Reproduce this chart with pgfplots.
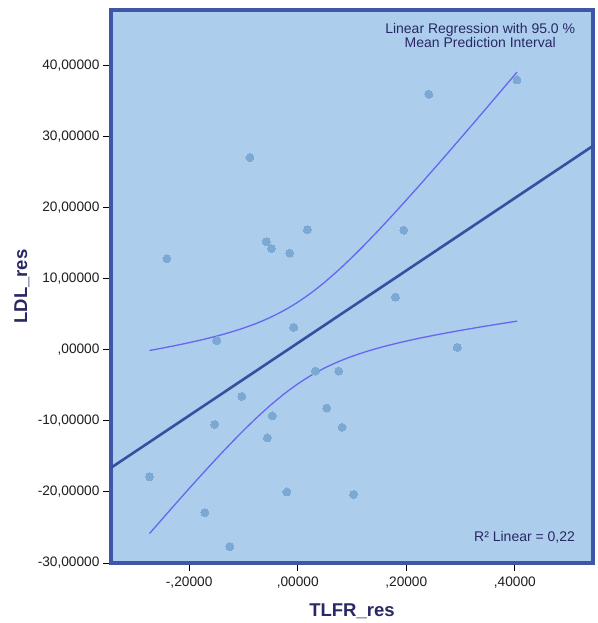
\documentclass[border=0pt]{standalone}
\usepackage{fontspec}
\setmainfont{Liberation Sans}
\usepackage{pgfplots}
\pgfplotsset{compat=1.18}
\definecolor{bgfill}{RGB}{172,206,236}
\definecolor{framec}{RGB}{63,86,168}
\definecolor{regline}{RGB}{58,78,158}
\definecolor{bandc}{RGB}{102,102,240}
\definecolor{ptc}{RGB}{124,168,212}
\definecolor{navy}{RGB}{40,40,100}
\begin{document}
\begin{tikzpicture}
\begin{axis}[
  name=ax,
  anchor=south west, at={(0,0)},
  width=482bp, height=553bp, scale only axis,
  xmin=-0.344, xmax=0.544, ymin=-30, ymax=47.8,
  axis background/.style={fill=bgfill},
  axis line style={line width=4bp, draw=framec},
  tick align=outside, xtick pos=bottom, ytick pos=left,
  major tick length=8bp,
  tick style={black, line width=1bp},
  xtick={-0.2,0,0.2,0.4},
  xticklabels={-{,}20000,{,}00000,{,}20000,{,}40000},
  ytick={-30,-20,-10,0,10,20,30,40},
  yticklabels={-30{,}00000,-20{,}00000,-10{,}00000,{,}00000,10{,}00000,20{,}00000,30{,}00000,40{,}00000},
  ticklabel style={font=\fontsize{13.7bp}{15bp}\selectfont, text=black!88},
  x tick label style={yshift=-2bp},
  xlabel={TLFR\_res}, ylabel={LDL\_res},
  label style={font=\fontsize{18.5bp}{20bp}\selectfont\bfseries, text=navy},
  x label style={at={(axis description cs:0.5,-0.088)}, anchor=center},
  y label style={at={(axis description cs:-0.185,0.5)}, anchor=center},
  clip=true,
]
% regression line
\addplot[regline, line width=2.6bp] coordinates {(-0.344,-16.604) (0.544,28.684)};
% upper 95% mean prediction band
\addplot[bandc, line width=1.3bp, smooth] coordinates {
(-0.273,-0.10) (-0.25,0.225) (-0.225,0.60) (-0.2,1.00) (-0.175,1.435) (-0.15,1.911)
(-0.125,2.443) (-0.1,3.048) (-0.075,3.749) (-0.05,4.571) (-0.025,5.543) (0,6.688)
(0.025,8.019) (0.05,9.53) (0.075,11.201) (0.1,13.006) (0.125,14.916) (0.15,16.906)
(0.175,18.959) (0.2,21.06) (0.225,23.197) (0.25,25.362) (0.275,27.55) (0.3,29.756)
(0.325,31.976) (0.35,34.208) (0.375,36.45) (0.404,39.06)};
% lower band
\addplot[bandc, line width=1.3bp, smooth] coordinates {
(-0.273,-25.86) (-0.25,-23.845) (-0.225,-21.67) (-0.2,-19.52) (-0.175,-17.405) (-0.15,-15.331)
(-0.125,-13.313) (-0.1,-11.368) (-0.075,-9.519) (-0.05,-7.791) (-0.025,-6.213) (0,-4.808)
(0.025,-3.589) (0.05,-2.55) (0.075,-1.671) (0.1,-0.926) (0.125,-0.286) (0.15,0.274)
(0.175,0.771) (0.2,1.22) (0.225,1.633) (0.25,2.018) (0.275,2.38) (0.3,2.724)
(0.325,3.054) (0.35,3.372) (0.375,3.68) (0.404,4.028)};
% data points
\addplot[ptc, only marks, mark=*, mark size=4pt, mark options={fill=ptc, draw=ptc, line width=0pt}] coordinates {
(-0.273,-17.86) (-0.241,12.8) (-0.149,1.27) (-0.153,-10.5) (-0.171,-22.9) (-0.125,-27.7)
(-0.103,-6.56) (-0.088,27.05) (-0.058,15.2) (-0.0485,14.25) (-0.056,-12.4) (-0.047,-9.3)
(-0.0147,13.6) (-0.020,-20.0) (-0.0074,3.14) (0.0178,16.9) (0.0326,-3.0) (0.0535,-8.2)
(0.0756,-3.0) (0.0817,-10.9) (0.103,-20.35) (0.180,7.41) (0.1954,16.83) (0.2415,35.96)
(0.294,0.33) (0.404,37.97)};
\node[font=\fontsize{14bp}{15bp}\selectfont, text=navy, align=center, inner sep=0pt]
  at (axis description cs:0.766,0.953) {Linear Regression with 95.0 \%\\[-1bp]Mean Prediction Interval};
\node[font=\fontsize{14bp}{15bp}\selectfont, text=navy, anchor=east, inner sep=0pt]
  at (axis description cs:0.963,0.047) {R² Linear = 0,22};
\end{axis}
\pgfresetboundingbox
\path[use as bounding box] (-111bp,-60bp) rectangle (487bp,563bp);
\end{tikzpicture}
\end{document}
